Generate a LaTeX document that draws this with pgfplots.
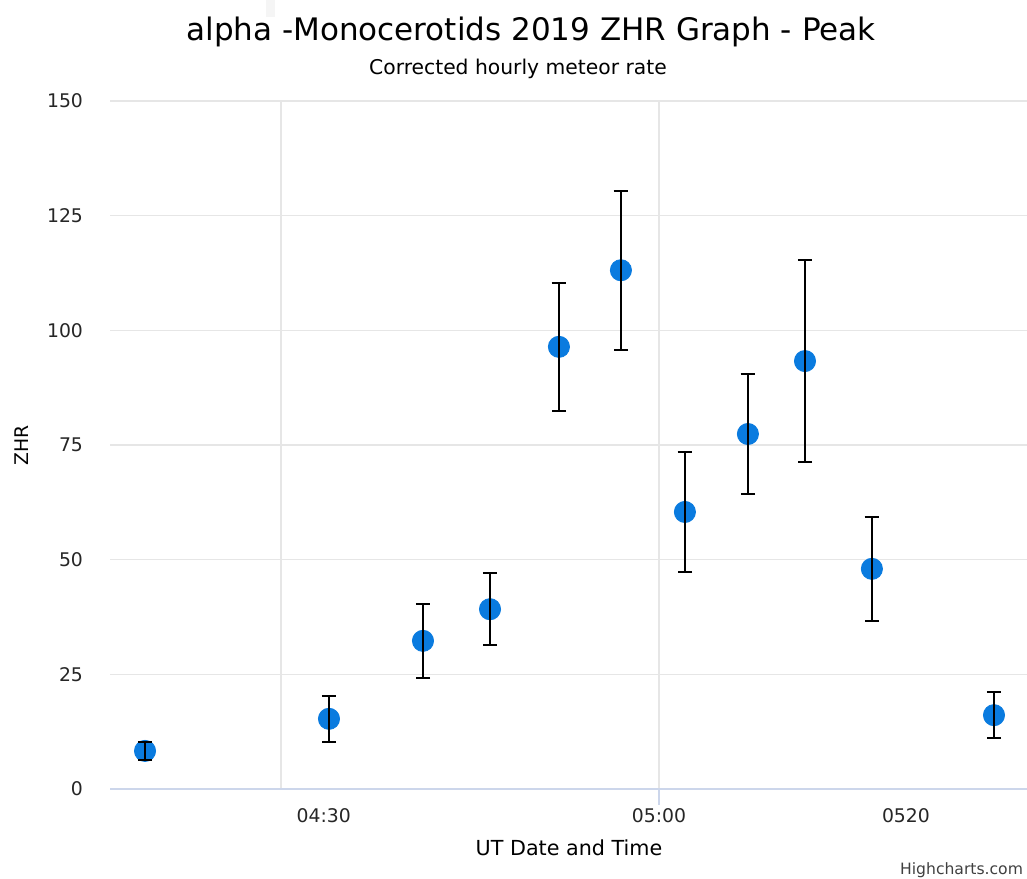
\documentclass[border=0pt]{standalone}
\usepackage{pgfplots}
\pgfplotsset{compat=1.18}
\usepackage{fontspec}
\setmainfont{DejaVu Sans}
\definecolor{dotblue}{HTML}{0A7BDF}
\definecolor{gridc}{HTML}{E6E6E6}
\definecolor{axc}{HTML}{CCD6EB}
\begin{document}
\begin{tikzpicture}[x=1pt,y=1pt]
% faint artifacts at top-left
\fill[left color=white, right color=black!5] (-24,399) rectangle (35.5,434);
\fill[black!4] (78,386) rectangle (82.5,439);
\begin{axis}[
  set layers,
  at={(0,0)}, anchor=south west,
  scale only axis, width=458.5pt, height=344pt,
  xmin=16.43, xmax=89.21, ymin=0, ymax=150,
  axis line style={draw=none},
  ytick={0,25,50,75,100,125,150},
  ymajorgrids, grid style={gridc, line width=0.6pt},
  xtick={33.4,60,79.6},
  xticklabels={04:30,05:00,0520},
  extra x ticks={30,60},
  extra x tick labels={},
  extra x tick style={grid=major, major tick length=0pt},
  major tick length=0pt,
  tick label style={font=\fontsize{9.4}{11}\selectfont, text=black!85},
  yticklabel style={xshift=-10pt},
  xticklabel style={yshift=-6pt},
  /pgf/number format/assume math mode=true,
  clip=false,
]
\draw[axc, line width=0.8pt] (axis cs:16.43,0) -- (axis cs:89.21,0);
\draw[axc, line width=0.7pt] (axis cs:60,0) -- ([yshift=-8pt]axis cs:60,0);
\addplot[only marks, mark=*, mark size=5.3pt, color=dotblue] coordinates {
(19.21,8.3) (33.81,15.3) (41.27,32.3) (46.59,39.2) (52.06,96.4) (56.98,113.1)
(62.06,60.4) (67.06,77.4) (71.59,93.3) (76.90,48.0) (86.59,16.1)};
\addplot[on layer=axis foreground, draw=none, mark=none, forget plot,
  error bars/.cd, y dir=both, y explicit,
  error bar style={draw=black, line width=1pt},
  error mark options={draw=black, rotate=90, mark size=3.6pt, line width=1pt}]
  coordinates {
(19.21,8.3) +- (0,1.9)
(33.81,15.3) +- (0,5.0)
(41.27,32.3) +- (0,8.0)
(46.59,39.2) +- (0,7.8)
(52.06,96.4) +- (0,13.9)
(56.98,113.1) +- (0,17.3)
(62.06,60.4) +- (0,13.0)
(67.06,77.4) +- (0,13.1)
(71.59,93.3) +- (0,22.0)
(76.90,48.0) +- (0,11.3)
(86.59,16.1) +- (0,5.0)};
\end{axis}
\node[font=\fontsize{15.5}{18}\selectfont] at (210.5,378.5) {alpha -Monocerotids 2019 ZHR Graph - Peak};
\node[font=\fontsize{10.15}{12}\selectfont] at (204,360) {Corrected hourly meteor rate};
\node[font=\fontsize{9.4}{11}\selectfont, rotate=90] at (-44,172) {ZHR};
\node[font=\fontsize{10.35}{12}\selectfont] at (229.5,-29.5) {UT Date and Time};
\node[font=\fontsize{7.8}{9}\selectfont, text=black!75, anchor=east] at (460,-40.5) {Highcharts.com};
\pgfresetboundingbox
\path (-55,-44.5) rectangle (458.5,394.5);
\end{tikzpicture}
\end{document}
